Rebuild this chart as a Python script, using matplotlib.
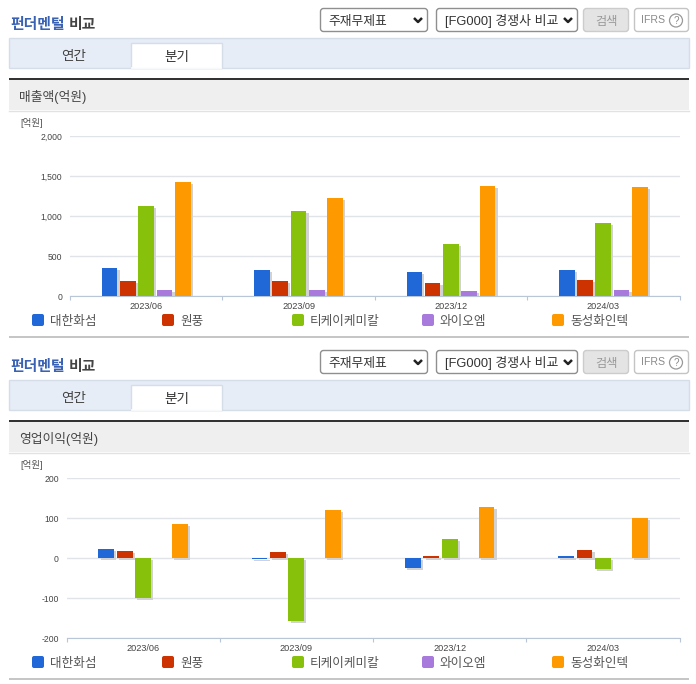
import matplotlib
matplotlib.use('Agg')
import matplotlib.pyplot as plt
import matplotlib.patheffects as pe
from matplotlib.patches import Rectangle, FancyBboxPatch, Circle

plt.rcParams['font.family'] = ['Liberation Sans', 'Noto Sans CJK KR', 'DejaVu Sans']

W, H = 696, 684

periods = ['2023/06', '2023/09', '2023/12', '2024/03']
companies = ['대한화섬', '원풍', '티케이케미칼', '와이오엠', '동성화인텍']
colors = ['#2068d8', '#cc3300', '#88c10c', '#a87adc', '#ff9900']

# 억원, one list per company, in the order of periods
sales_daehan = [354, 330, 304, 330]
sales_wonpoong = [187, 187, 162, 204]
sales_tk = [1130, 1066, 654, 916]
sales_yom = [75, 75, 62, 79]
sales_dongsung = [1425, 1225, 1380, 1367]

profit_daehan = [23, -2, -25, 4]
profit_wonpoong = [18, 16, 4, 21]
profit_tk = [-100, -158, 48, -27]
profit_yom = [-1, 0, -1, 0]
profit_dongsung = [84, 121, 128, 101]

sales = [sales_daehan, sales_wonpoong, sales_tk, sales_yom, sales_dongsung]
profit = [profit_daehan, profit_wonpoong, profit_tk, profit_yom, profit_dongsung]

sales_ticks = [0, 500, 1000, 1500, 2000]
profit_ticks = [-200, -100, 0, 100, 200]

fig = plt.figure(figsize=(W / 100, H / 100), dpi=100, facecolor='white')
ui = fig.add_axes([0, 0, 1, 1])
ui.set_xlim(0, W)
ui.set_ylim(H, 0)
ui.axis('off')


def box(x0, y0, x1, y1, fc, ec, r=3, lw=1.0):
    ui.add_patch(FancyBboxPatch((x0, y0), x1 - x0, y1 - y0,
                                boxstyle=f'round,pad=0,rounding_size={r}',
                                fc=fc, ec=ec, lw=lw))


def label(x, y, s, **kw):
    # the CJK glyphs sit high in the line box, so push them down a bit
    ui.text(x, y + 1.5, s, va='center', **kw)


def chevron(x, y):
    ui.plot([x - 4, x, x + 4], [y - 2, y + 2, y - 2], color='#222222', lw=1.8,
            solid_capstyle='butt')


def header(dy, metric):
    label(10, 23 + dy, '펀더멘털', color='#3a62b4', fontsize=10.7, fontweight='bold')
    label(69, 23 + dy, '비교', color='#444444', fontsize=10.7, fontweight='bold')

    box(320.5, 8.5 + dy, 427.5, 31.5 + dy, 'white', '#8f8f8f')
    label(328, 20 + dy, '주재무제표', color='#333333', fontsize=9.2)
    chevron(418, 20 + dy)
    box(436.5, 8.5 + dy, 577.5, 31.5 + dy, 'white', '#8f8f8f')
    label(445, 20 + dy, '[FG000] 경쟁사 비교', color='#333333', fontsize=9.3)
    chevron(568, 20 + dy)
    box(583.5, 8.5 + dy, 628.5, 31.5 + dy, '#e4e4e4', '#cccccc')
    label(607, 20 + dy, '검색', color='#999999', fontsize=8.8, ha='center')
    box(634.5, 8.5 + dy, 688.5, 31.5 + dy, 'white', '#c4c4c4')
    ui.text(641, 20 + dy, 'IFRS', color='#8a8a8a', fontsize=7.6, va='center')
    ui.add_patch(Circle((676, 20.5 + dy), 6.5, fc='white', ec='#999999', lw=0.9))
    ui.text(676, 20.5 + dy, '?', color='#8a8a8a', fontsize=7, ha='center', va='center')

    ui.add_patch(Rectangle((9, 38 + dy), 680, 30, fc='#e6edf7', ec='#d5dde8', lw=1))
    ui.add_patch(Rectangle((131, 43 + dy), 91, 25, fc='white', ec='#d5dde8', lw=1))
    ui.plot([132, 221], [68 + dy, 68 + dy], color='white', lw=1.2)
    label(74, 54.5 + dy, '연간', color='#444444', fontsize=9.8, ha='center')
    label(177, 55 + dy, '분기', color='#333333', fontsize=9.8, ha='center')

    ui.add_patch(Rectangle((9, 80 + dy), 680, 30, fc='#efefef', ec='none'))
    ui.add_patch(Rectangle((9, 78 + dy), 680, 2, fc='#333333', ec='none'))
    ui.plot([9, 689], [110.5 + dy, 110.5 + dy], color='#e2e2e2', lw=1)
    label(19, 95 + dy, metric, color='#444444', fontsize=9.2)
    label(20, 121.5 + dy, '[억원]', color='#555555', fontsize=6.8)

    for x, name, c in zip([32, 162, 292, 422, 552], companies, colors):
        box(x, 314 + dy, x + 12, 326 + dy, c, 'none', r=2, lw=0)
        label(x + 18, 320 + dy, name, color='#555555', fontsize=9.1)
    ui.add_patch(Rectangle((9, 336 + dy), 680, 2, fc='#c6c6c6', ec='none'))


def chart(left, right, top, bottom, series, ticks, label_right):
    ax = fig.add_axes([left / W, 1 - bottom / H, (right - left) / W, (bottom - top) / H])
    ax.patch.set_alpha(0)
    ax.set_xlim(0, len(periods))
    ax.set_ylim(ticks[0], ticks[-1])
    ax.set_axisbelow(True)
    ax.grid(axis='y', color='#e0e3e8', lw=1)
    for s in ['top', 'left', 'right']:
        ax.spines[s].set_visible(False)
    ax.spines['bottom'].set_color('#b8c6d8')
    ax.set_yticks(ticks)
    ax.set_yticklabels([f'{t:,}' for t in ticks], fontsize=6.2, color='#444444')
    # pad is in points, the layout is worked out in pixels
    ax.tick_params(axis='y', length=0, pad=(left - label_right) * 0.72)
    ax.set_xticks(range(len(periods) + 1))
    ax.set_xticklabels([])
    ax.tick_params(axis='x', which='major', length=3, color='#b8c6d8')
    ax.set_xticks([i + 0.5 for i in range(len(periods))], minor=True)
    ax.set_xticklabels(periods, minor=True, fontsize=6.6, color='#444444')
    ax.tick_params(axis='x', which='minor', length=0, pad=4.5)
    shadow = [pe.SimplePatchShadow(offset=(1.6, -1.4), shadow_rgbFace='#d2d2d2', alpha=1), pe.Normal()]
    for j, vals in enumerate(series):
        xs = [i + 0.5 + (j - 2) * 0.12 for i in range(len(vals))]
        bars = ax.bar(xs, vals, width=0.103, color=colors[j], zorder=3)
        for b in bars:
            b.set_path_effects(shadow)
    return ax


header(0, '매출액(억원)')
header(342, '영업이익(억원)')
chart(70, 679.5, 136, 296, sales, sales_ticks, 62)
chart(66.5, 679.5, 478, 638, profit, profit_ticks, 59)

fig.savefig('out.png', dpi=100)
